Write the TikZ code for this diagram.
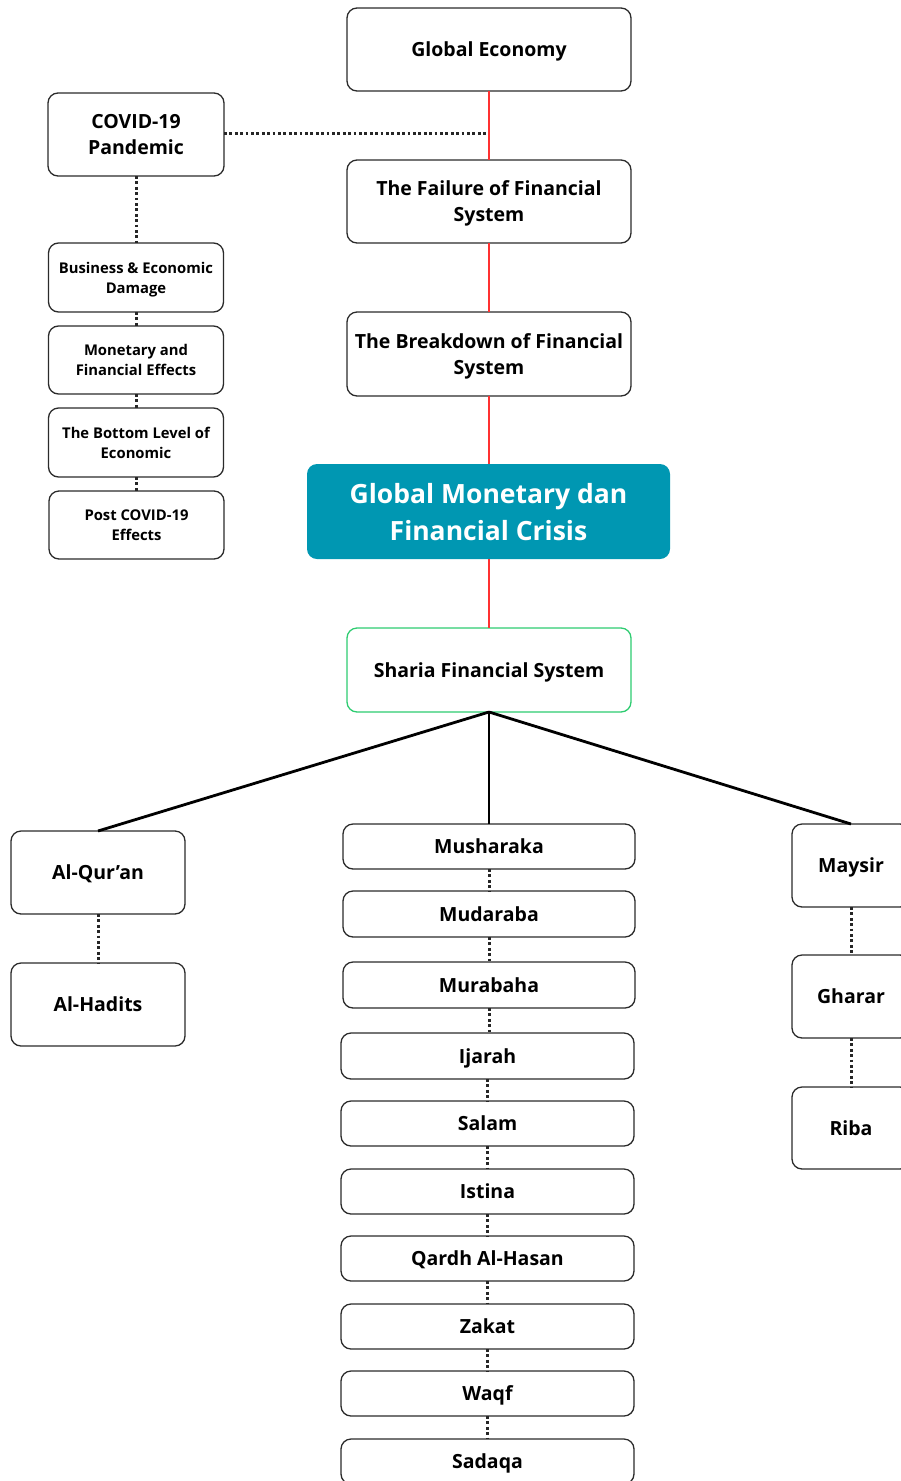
\documentclass[tikz,border=0pt]{standalone}
\usepackage{fontspec}
\setmainfont{Open Sans}
\definecolor{teal1}{HTML}{0097B2}
\definecolor{redl}{HTML}{FF3131}
\definecolor{greenb}{HTML}{2ECC71}
\definecolor{bord}{HTML}{2B2B2B}
\tikzset{
  box/.style={draw=bord, line width=1.3pt, rounded corners=10pt, fill=white, align=center, inner sep=0pt, outer sep=0pt, text depth=0pt, font=\bfseries\fontsize{19.5}{26}\selectfont},
  smallbox/.style={box, font=\bfseries\fontsize{14.8}{20}\selectfont},
  redline/.style={draw=redl, line width=2.5pt},
  dotline/.style={draw=black!85, line width=3pt, dash pattern=on 2.8pt off 2.6pt},
  blackline/.style={draw=black, line width=2.8pt},
}
\begin{document}
\begin{tikzpicture}[x=1pt,y=-1pt]
\useasboundingbox (0,0) rectangle (901,1481);
\clip (0,0) rectangle (901,1481);
\node[box, minimum width=284pt, minimum height=83pt] (ge) at (489,49.5) {Global Economy};
\node[box, minimum width=284pt, minimum height=83pt] (fail) at (489,201.5) {The Failure of Financial\\System};
\node[box, minimum width=284pt, minimum height=84pt] (brk) at (489,354) {The Breakdown of Financial\\System};
\node[draw=none, fill=teal1, rounded corners=10pt, minimum width=363pt, minimum height=95pt, align=center, inner sep=0pt, text depth=0pt, text=white, font=\bfseries\fontsize{26.5}{37}\selectfont] (crisis) at (488.5,511.5) {Global Monetary dan\\Financial Crisis};
\node[box, draw=greenb, minimum width=284pt, minimum height=84pt] (sharia) at (489,670) {Sharia Financial System};

\node[box, minimum width=176pt, minimum height=83pt] (covid) at (136,134.5) {COVID-19\\Pandemic};
\node[smallbox, minimum width=175pt, minimum height=69pt] (bus) at (136,277.5) {Business \& Economic\\Damage};
\node[smallbox, minimum width=175pt, minimum height=68pt] (mon) at (136,360) {Monetary and\\Financial Effects};
\node[smallbox, minimum width=175pt, minimum height=69pt] (bot) at (136,442.5) {The Bottom Level of\\Economic};
\node[smallbox, minimum width=175pt, minimum height=68pt] (post) at (136.5,525) {Post COVID-19\\Effects};

\node[box, minimum width=174pt, minimum height=83pt] (quran) at (98,872.5) {Al-Qur’an};
\node[box, minimum width=174pt, minimum height=83pt] (hadits) at (98,1004.5) {Al-Hadits};

\node[box, minimum width=118pt, minimum height=83pt] (maysir) at (851,865.5) {Maysir};
\node[box, minimum width=118pt, minimum height=83pt] (gharar) at (851,996.5) {Gharar};
\node[box, minimum width=118pt, minimum height=82pt] (riba) at (851,1128) {Riba};

\node[box, minimum width=292pt, minimum height=45pt] (c1) at (489,846.5) {Musharaka};
\node[box, minimum width=292pt, minimum height=46pt] (c2) at (489,914) {Mudaraba};
\node[box, minimum width=292pt, minimum height=46pt] (c3) at (489,985) {Murabaha};
\node[box, minimum width=293pt, minimum height=46pt] (c4) at (487.5,1056) {Ijarah};
\node[box, minimum width=293pt, minimum height=45pt] (c5) at (487.5,1123.5) {Salam};
\node[box, minimum width=293pt, minimum height=45pt] (c6) at (487.5,1191.5) {Istina};
\node[box, minimum width=293pt, minimum height=45pt] (c7) at (487.5,1258.5) {Qardh Al-Hasan};
\node[box, minimum width=293pt, minimum height=45pt] (c8) at (487.5,1326.5) {Zakat};
\node[box, minimum width=293pt, minimum height=45pt] (c9) at (487.5,1393.5) {Waqf};
\node[box, minimum width=293pt, minimum height=45pt] (c10) at (487.5,1461.5) {Sadaqa};

\draw[redline] (ge.south) -- (fail.north);
\draw[redline] (fail.south) -- (brk.north);
\draw[redline] (brk.south) -- (crisis.north -| brk.south);
\draw[redline] (crisis.south -| sharia.north) -- (sharia.north);

\coordinate (spine) at (487,133);
\draw[dotline] (covid.east |- spine) -- (spine);
\draw[dotline] (covid.south) -- (bus.north);
\draw[dotline] (bus.south) -- (mon.north);
\draw[dotline] (mon.south) -- (bot.north);
\draw[dotline] (bot.south) -- (post.north -| bot.south);

\draw[blackline] (sharia.south) -- (quran.north);
\draw[blackline] (sharia.south) -- (c1.north);
\draw[blackline] (sharia.south) -- (maysir.north);

\draw[dotline] (quran.south) -- (hadits.north);
\draw[dotline] (maysir.south) -- (gharar.north);
\draw[dotline] (gharar.south) -- (riba.north);

\draw[dotline] (c1.south) -- (c2.north);
\draw[dotline] (c2.south) -- (c3.north);
\draw[dotline] (c3.south) -- (c3.south |- c4.north);
\draw[dotline] (c4.south) -- (c5.north);
\draw[dotline] (c5.south) -- (c6.north);
\draw[dotline] (c6.south) -- (c7.north);
\draw[dotline] (c7.south) -- (c8.north);
\draw[dotline] (c8.south) -- (c9.north);
\draw[dotline] (c9.south) -- (c10.north);
\end{tikzpicture}
\end{document}
